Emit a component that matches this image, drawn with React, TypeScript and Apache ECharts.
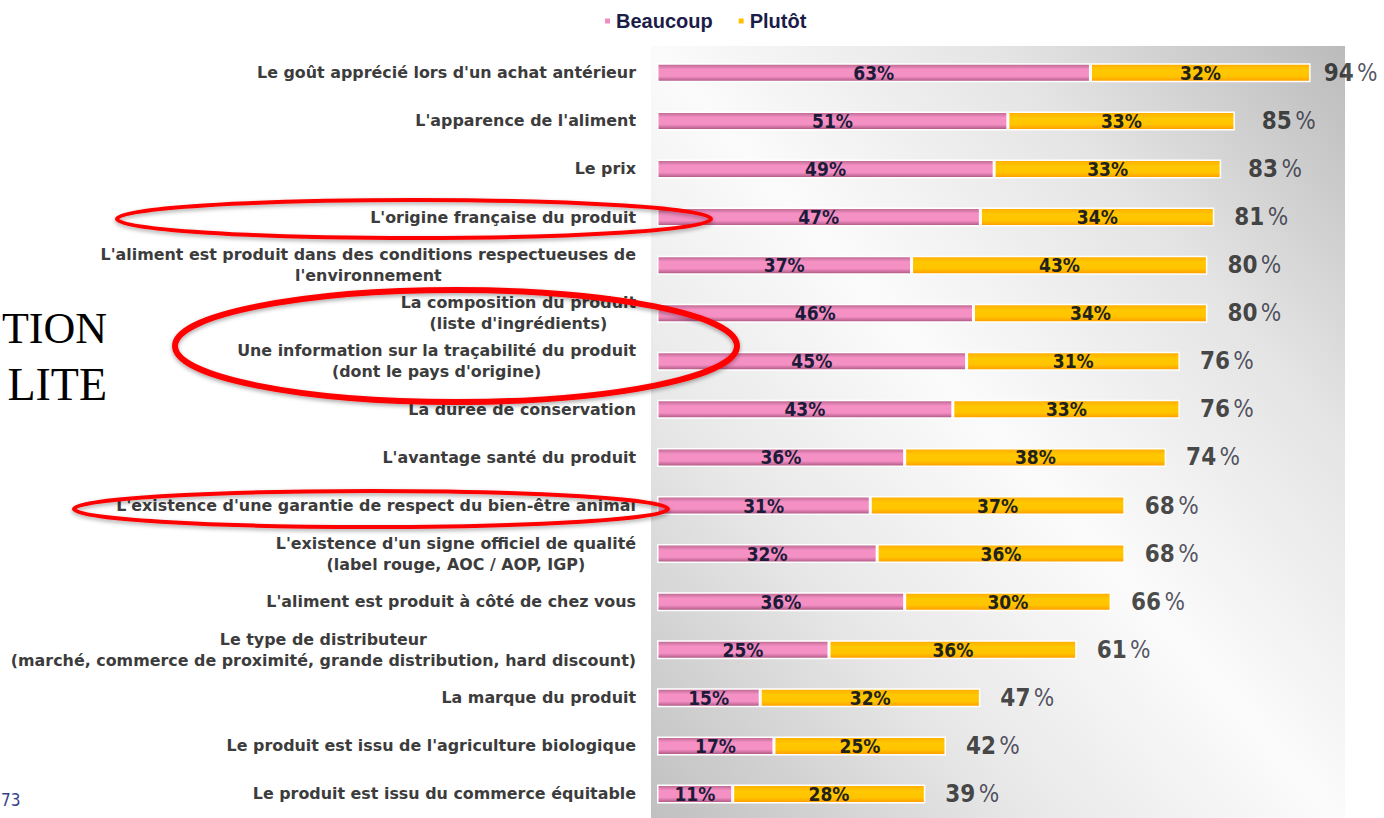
import React, { useEffect, useRef } from "react";
import * as echarts from "echarts";

const categories: string[] = [
  "Le goût apprécié lors d'un achat antérieur",
  "L'apparence de l'aliment",
  "Le prix",
  "L'origine française du produit",
  "L'aliment est produit dans des conditions respectueuses de\nl'environnement",
  "La composition du produit\n(liste d'ingrédients)",
  "Une information sur la traçabilité du produit\n(dont le pays d'origine)",
  "La durée de conservation",
  "L'avantage santé du produit",
  "L'existence d'une garantie de respect du bien-être animal",
  "L'existence d'un signe officiel de qualité\n(label rouge, AOC / AOP, IGP)",
  "L'aliment est produit à côté de chez vous",
  "Le type de distributeur\n(marché, commerce de proximité, grande distribution, hard discount)",
  "La marque du produit",
  "Le produit est issu de l'agriculture biologique",
  "Le produit est issu du commerce équitable",
];

const beaucoup: number[] = [63, 51, 49, 47, 37, 46, 45, 43, 36, 31, 32, 36, 25, 15, 17, 11];
const plutot: number[] = [32, 33, 33, 34, 43, 34, 31, 33, 38, 37, 36, 30, 36, 32, 25, 28];
const totals: number[] = [94, 85, 83, 81, 80, 80, 76, 76, 74, 68, 68, 66, 61, 47, 42, 39];

const NARROW = '"Liberation Sans Narrow", "DejaVu Sans Condensed", "Arial Narrow", sans-serif';
const SANS = '"Liberation Sans", Arial, sans-serif';
const WIDE = '"DejaVu Sans", Verdana, sans-serif';

export default function App() {
  const ref = useRef<HTMLDivElement>(null);

  useEffect(() => {
    if (!ref.current) return;
    const chart = echarts.init(ref.current, null, { renderer: "svg" });

    const pinkGrad = new echarts.graphic.LinearGradient(0, 0, 0, 1, [
      { offset: 0, color: "#b9668f" },
      { offset: 0.3, color: "#f590c4" },
      { offset: 0.7, color: "#f590c4" },
      { offset: 1, color: "#a8547e" },
    ]);
    const goldGrad = new echarts.graphic.LinearGradient(0, 0, 0, 1, [
      { offset: 0, color: "#ffad00" },
      { offset: 0.35, color: "#ffc800" },
      { offset: 0.7, color: "#ffc400" },
      { offset: 1, color: "#ff9a00" },
    ]);

    const ellipseStyle = (w: number) => ({
      fill: "none",
      stroke: "#ff0000",
      lineWidth: w,
      shadowBlur: 4,
      shadowColor: "rgba(0,0,0,0.35)",
      shadowOffsetY: 2,
    });

    const option: any = {
      animation: false,
      backgroundColor: "#ffffff",
      legend: {
        top: 6,
        left: 598,
        itemWidth: 7,
        itemHeight: 7,
        itemGap: 24,
        icon: "rect",
        textStyle: { fontFamily: SANS, fontSize: 20, fontWeight: "bold", color: "#1c1c48" },
        data: [
          { name: "Beaucoup", itemStyle: { color: "#f08cc0" } },
          { name: "Plutôt", itemStyle: { color: "#ffc000" } },
        ],
      },
      graphic: [
        {
          type: "rect",
          z: -10,
          shape: { x: 651, y: 46, width: 694, height: 780 },
          style: {
            fill: new echarts.graphic.LinearGradient(1, 0, 0, 1, [
              { offset: 0, color: "#bbbbbb" },
              { offset: 0.25, color: "#e4e4e4" },
              { offset: 0.5, color: "#fbfbfb" },
              { offset: 0.72, color: "#e8e8e8" },
              { offset: 1, color: "#bfbfbf" },
            ]),
          },
        },
        {
          type: "text",
          x: 107,
          y: 328,
          style: {
            text: "TION",
            font: '44px "Liberation Serif", "Times New Roman", serif',
            fill: "#000000",
            textAlign: "right",
            textVerticalAlign: "middle",
          },
        },
        {
          type: "text",
          x: 107,
          y: 384,
          style: {
            text: "LITE",
            font: '46px "Liberation Serif", "Times New Roman", serif',
            fill: "#000000",
            textAlign: "right",
            textVerticalAlign: "middle",
          },
        },
        {
          type: "text",
          x: 1,
          y: 800,
          style: {
            text: "73",
            font: '17px ' + NARROW,
            fill: "#34408a",
            textAlign: "left",
            textVerticalAlign: "middle",
          },
        },
        {
          type: "ellipse",
          z: 100,
          shape: { cx: 414, cy: 219, rx: 297, ry: 19 },
          style: ellipseStyle(4),
        },
        {
          type: "ellipse",
          z: 100,
          shape: { cx: 456, cy: 346, rx: 281, ry: 56 },
          style: ellipseStyle(6),
        },
        {
          type: "ellipse",
          z: 100,
          shape: { cx: 371, cy: 509, rx: 297, ry: 18 },
          style: ellipseStyle(4),
        },
      ],
      grid: { left: 657, top: 48.8, width: 688, height: 775.5, containLabel: false },
      xAxis: {
        type: "value",
        min: 0,
        max: 100,
        show: false,
      },
      yAxis: {
        type: "category",
        inverse: true,
        data: categories,
        axisLine: { show: false },
        axisTick: { show: false },
        splitLine: { show: false },
        axisLabel: {
          margin: 21,
          align: "right",
          formatter: (v: string) =>
            v
              .split("\n")
              .map((l) => `{c|${l}}`)
              .join("\n"),
          rich: {
            c: {
              align: "center",
              fontFamily: WIDE,
              fontSize: 15.9,
              fontWeight: "bold",
              color: "#3c3c3c",
              lineHeight: 21,
            },
          },
        },
      },
      series: [
        {
          name: "Beaucoup",
          type: "bar",
          stack: "t",
          barWidth: 19,
          data: beaucoup,
          itemStyle: { color: pinkGrad, borderColor: "#ffffff", borderWidth: 1.5 },
          label: {
            show: true,
            position: "inside",
            formatter: "{c}%",
            fontFamily: NARROW,
            fontSize: 19,
            fontWeight: "bold",
            color: "#1c1c3a",
          },
        },
        {
          name: "Plutôt",
          type: "bar",
          stack: "t",
          barWidth: 19,
          data: plutot,
          itemStyle: { color: goldGrad, borderColor: "#ffffff", borderWidth: 1.5 },
          label: {
            show: true,
            position: "inside",
            formatter: "{c}%",
            fontFamily: NARROW,
            fontSize: 19,
            fontWeight: "bold",
            color: "#22221a",
          },
        },
        {
          name: "Total",
          type: "scatter",
          symbolSize: 0,
          data: totals.map((t, i) => [t, i]),
          label: {
            show: true,
            position: "right",
            distance: 20,
            formatter: (p: any) => `{n|${p.value[0]}} {p|%}`,
            rich: {
              n: { fontFamily: NARROW, fontSize: 24, fontWeight: "bold", color: "#1a1a1a" },
              p: { fontFamily: NARROW, fontSize: 24, color: "#2a2a3a" },
            },
          },
          tooltip: { show: false },
        },
      ],
    };

    chart.setOption(option);
    return () => chart.dispose();
  }, []);

  return (
    <div
      ref={ref}
      style={{ position: "absolute", left: 0, top: 0, width: 1384, height: 818 }}
    />
  );
}
